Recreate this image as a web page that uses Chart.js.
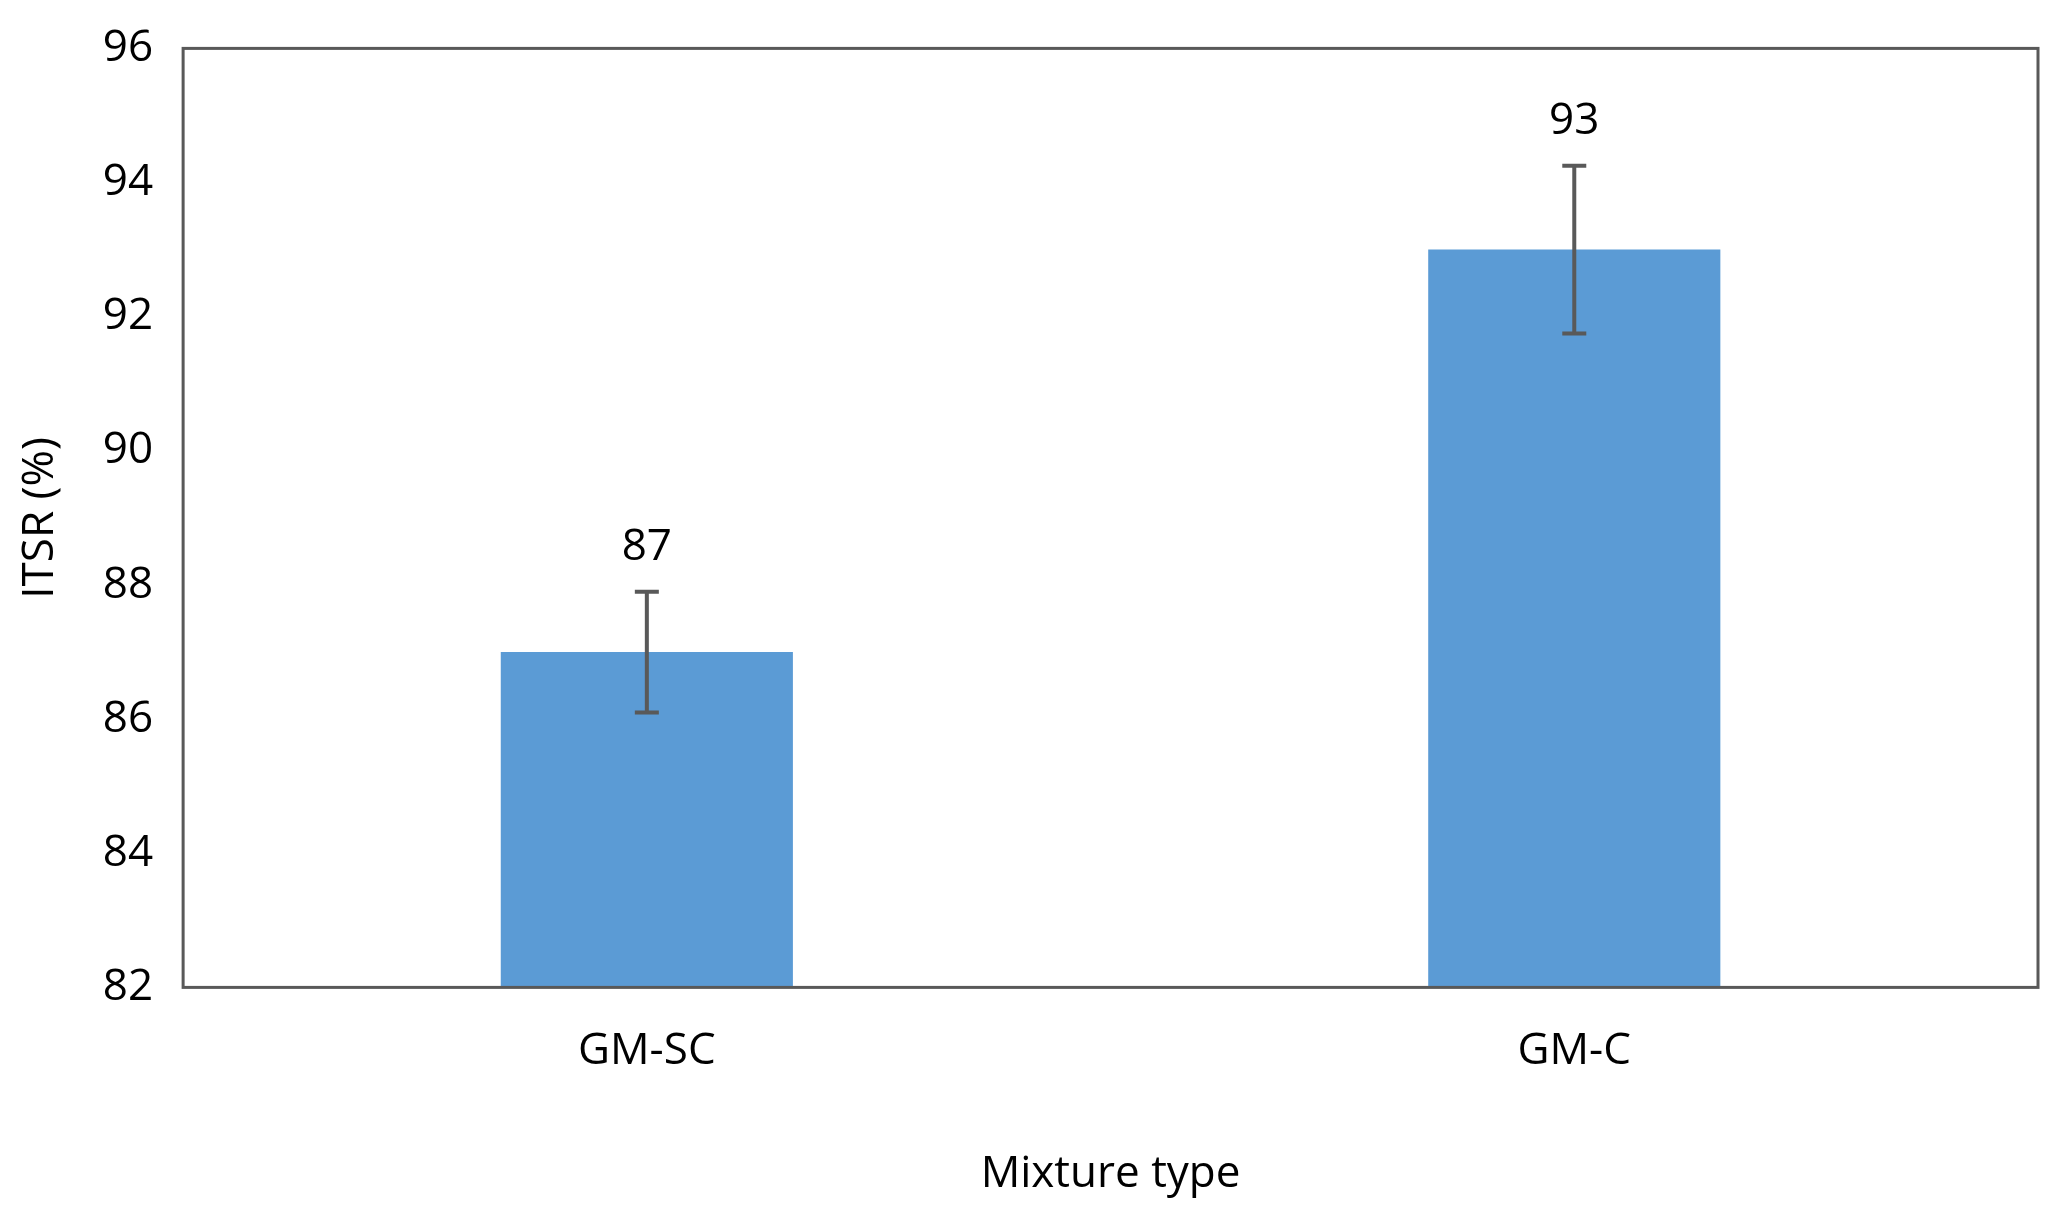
<!DOCTYPE html>
<html>
<head>
<meta charset="utf-8">
<script src="https://cdn.jsdelivr.net/npm/chart.js@4"></script>
<style>
  body { margin: 0; background: #fff; }
  #wrap { width: 2062px; height: 1225px; }
</style>
</head>
<body>
<div id="wrap"><canvas id="myChart"></canvas></div>
<script>
const mixtures = ["GM-SC", "GM-C"];
const itsr = [87, 93];
const errLow = [86.1, 91.75];
const errHigh = [87.9, 94.25];
const yTicks = [82, 84, 86, 88, 90, 92, 94, 96];

const FONT = "'Open Sans', 'Liberation Sans', sans-serif";

// error bars + value labels, positioned through the chart scales
const extras = {
  id: 'extras',
  afterDatasetsDraw(chart) {
    const ctx = chart.ctx;
    const x = chart.scales.x, y = chart.scales.y;
    ctx.save();
    ctx.strokeStyle = '#595959';
    ctx.lineWidth = 4;
    mixtures.forEach((m, i) => {
      const cx = x.getPixelForValue(i);
      const y1 = y.getPixelForValue(errLow[i]);
      const y2 = y.getPixelForValue(errHigh[i]);
      ctx.beginPath();
      ctx.moveTo(cx, y1); ctx.lineTo(cx, y2);
      ctx.moveTo(cx - 12, y1); ctx.lineTo(cx + 12, y1);
      ctx.moveTo(cx - 12, y2); ctx.lineTo(cx + 12, y2);
      ctx.stroke();
      ctx.fillStyle = '#000';
      ctx.font = '44px ' + FONT;
      ctx.textAlign = 'center';
      ctx.textBaseline = 'bottom';
      ctx.fillText(itsr[i], cx, y2 - 22);
    });
    // plot frame
    const a = chart.chartArea;
    ctx.strokeStyle = '#595959';
    ctx.lineWidth = 3;
    ctx.strokeRect(a.left, a.top, a.right - a.left, a.bottom - a.top);
    ctx.restore();
  }
};

new Chart("myChart", {
  type: "bar",
  data: {
    labels: mixtures,
    datasets: [{
      data: itsr,
      backgroundColor: "#5b9bd5",
      categoryPercentage: 1,
      barPercentage: 0.315
    }]
  },
  options: {
    responsive: true,
    maintainAspectRatio: false,
    animation: false,
    layout: { padding: { top: 30, right: 24, bottom: 20, left: 10 } },
    plugins: { legend: { display: false }, tooltip: { enabled: false } },
    scales: {
      x: {
        grid: { display: false },
        border: { display: false },
        ticks: { color: '#000', font: { size: 44, family: FONT }, padding: 30 },
        title: { display: true, text: 'Mixture type', color: '#000', font: { size: 44, family: FONT }, padding: { top: 40 } }
      },
      y: {
        min: 82, max: 96,
        afterBuildTicks: (axis) => { axis.ticks = yTicks.map(v => ({ value: v })); },
        grid: { display: false },
        border: { display: false },
        ticks: { color: '#000', font: { size: 44, family: FONT }, padding: 22 },
        title: { display: true, text: 'ITSR (%)', color: '#000', font: { size: 44, family: FONT }, padding: { bottom: 14 } }
      }
    }
  },
  plugins: [extras]
});
</script>
</body>
</html>
